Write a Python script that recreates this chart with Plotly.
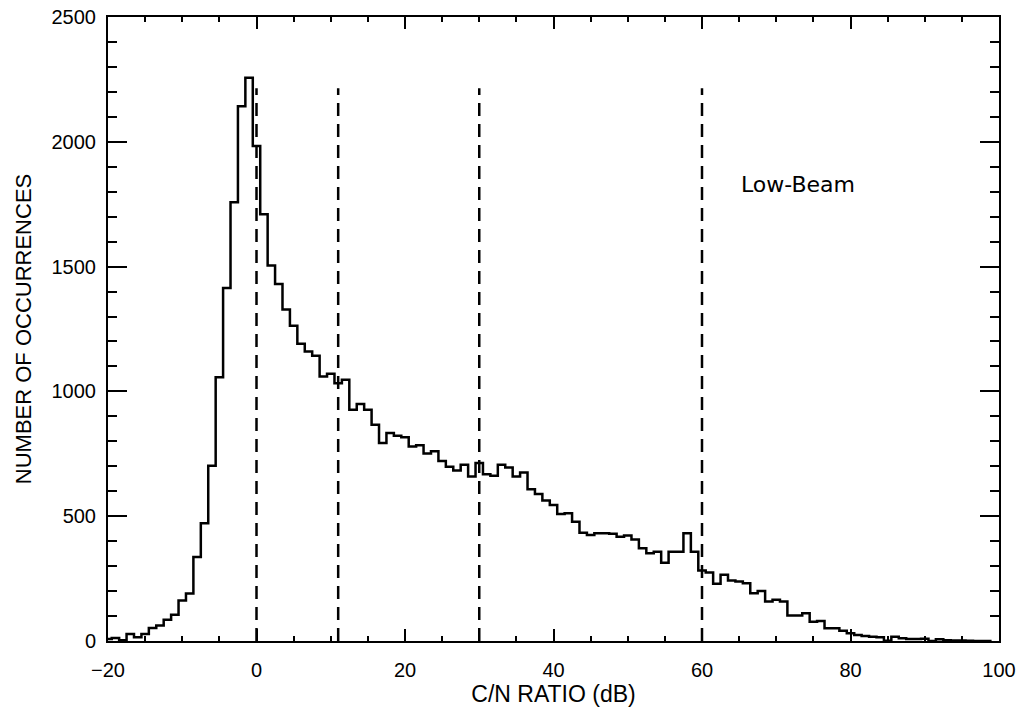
import plotly.graph_objects as go

# bin centres (dB) and counts
cn_db = list(range(-20, 100))
counts = [
    8, 12, 3, 28, 15, 28, 52, 62, 85, 105,            # -20 .. -11
    162, 190, 337, 472, 702, 1057, 1414, 1758, 2142, 2257,  # -10 .. -1
    1983, 1710, 1504, 1430, 1328, 1263, 1191, 1160, 1143, 1060,  # 0 .. 9
    1071, 1033, 1047, 926, 950, 926, 866, 793, 833, 822,   # 10 .. 19
    816, 779, 784, 751, 760, 721, 698, 683, 706, 659,      # 20 .. 29
    713, 668, 662, 706, 695, 659, 675, 608, 589, 563,      # 30 .. 39
    545, 509, 512, 478, 434, 425, 432, 432, 430, 418,      # 40 .. 49
    423, 407, 372, 352, 358, 314, 358, 358, 432, 358,      # 50 .. 59
    282, 274, 229, 265, 242, 238, 231, 191, 200, 158,      # 60 .. 69
    165, 158, 102, 102, 111, 77, 80, 51, 51, 41,           # 70 .. 79
    31, 24, 20, 17, 15, 1, 17, 11, 8, 8,                   # 80 .. 89
    9, 0, 7, 3, 2, 2, 1, 0, 0, 0,                          # 90 .. 99
]

marker_lines_db = [0, 11, 30, 60]
marker_top = 2215
label_text = "Low-Beam"
label_x = 65
label_y = 1830

x_title = "C/N RATIO (dB)"
y_title = "NUMBER OF OCCURRENCES"

FONT = "Liberation Sans, Arial, sans-serif"

fig = go.Figure()

# dashed reference lines
vx, vy = [], []
for v in marker_lines_db:
    vx += [v, v, None]
    vy += [0, marker_top, None]
fig.add_trace(go.Scatter(
    x=vx, y=vy, mode="lines",
    line=dict(color="black", width=2.5, dash="13px,8px"),
    hoverinfo="skip", showlegend=False,
))

# histogram step line
fig.add_trace(go.Scatter(
    x=cn_db, y=counts, mode="lines",
    line=dict(color="black", width=2.5, shape="hvh"),
    showlegend=False,
))

fig.add_annotation(
    x=label_x, y=label_y, xref="x", yref="y",
    text=label_text, showarrow=False, xanchor="left", yanchor="middle",
    font=dict(family="DejaVu Sans, sans-serif", size=22, color="black"),
)

axis_common = dict(
    showgrid=False, zeroline=False,
    showline=True, linecolor="black", linewidth=2,
    mirror="ticks", ticks="inside", tickcolor="black", tickwidth=1.8,
    tickfont=dict(family=FONT, size=20, color="black"),
)

fig.update_xaxes(
    range=[-20, 100], dtick=20, tick0=-20, ticklen=12,
    minor=dict(dtick=5, ticklen=5, ticks="inside", tickcolor="black", tickwidth=1.8),
    title=dict(text=x_title, font=dict(family=FONT, size=23, color="black"), standoff=4),
    ticklabelstandoff=10,
    **axis_common,
)
fig.update_yaxes(
    range=[0, 2500], dtick=500, ticklen=19,
    minor=dict(dtick=100, ticklen=9, ticks="inside", tickcolor="black", tickwidth=1.8),
    title=dict(text=y_title, font=dict(family=FONT, size=22, color="black"), standoff=14),
    ticklabelstandoff=6,
    **axis_common,
)

fig.update_layout(
    width=1021, height=708,
    margin=dict(l=108, r=22, t=17, b=67, autoexpand=False),
    plot_bgcolor="white", paper_bgcolor="white",
)

fig.write_html("out.html")
